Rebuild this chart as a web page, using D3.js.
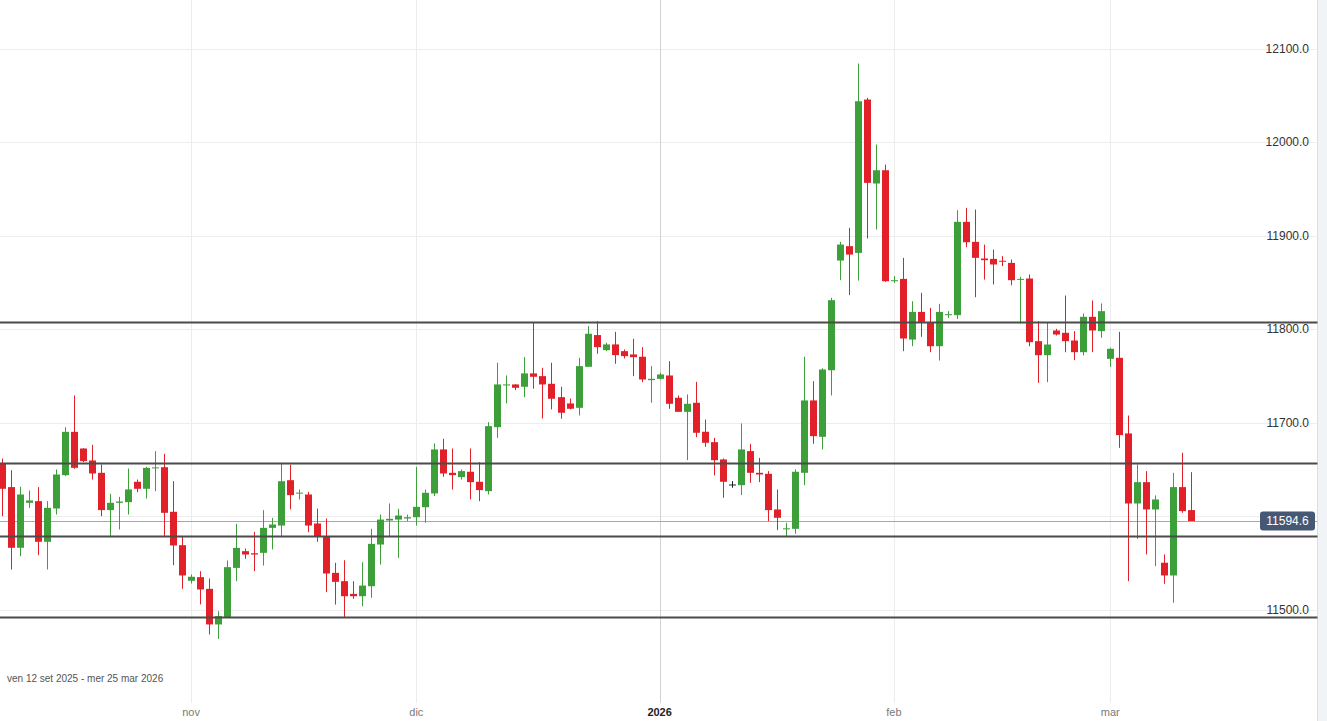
<!DOCTYPE html>
<html>
<head>
<meta charset="utf-8">
<script src="https://cdn.jsdelivr.net/npm/d3@7"></script>
<style>
  html, body { margin: 0; padding: 0; background: #fff; }
  svg { display: block; font-family: "Liberation Sans", Arial, sans-serif; }
</style>
</head>
<body>
<div id="chart"></div>
<script>
// daily candles (index 0 = first visible candle)
const open = [
  11656.2, 11630.9, 11566.0, 11614.1, 11615.9, 11572.4, 11608.0, 11643.7, 11690.0, 11672.2,
  11659.4, 11646.2, 11606.3, 11614.1, 11614.8, 11636.6, 11629.1, 11651.0, 11652.2, 11604.5,
  11568.8, 11530.7, 11534.6, 11522.1, 11484.0, 11491.1, 11544.5, 11562.4, 11560.2, 11560.6,
  11587.3, 11589.8, 11638.3, 11624.0, 11623.0, 11592.0, 11578.4, 11539.2, 11530.3, 11516.7,
  11514.2, 11524.9, 11569.5, 11595.2, 11596.2, 11597.3, 11598.7, 11609.4, 11624.1, 11671.2,
  11646.2, 11641.6, 11647.3, 11636.6, 11626.6, 11695.0, 11739.6, 11740.7, 11738.2, 11752.5,
  11749.6, 11741.4, 11727.1, 11720.4, 11715.7, 11759.6, 11793.5, 11777.4, 11783.5, 11776.3,
  11772.8, 11770.3, 11745.3, 11746.7, 11750.3, 11726.4, 11711.4, 11721.1, 11690.1, 11679.0,
  11660.5, 11633.7, 11633.0, 11669.4, 11646.2, 11645.1, 11607.0, 11586.3, 11586.3, 11646.2,
  11723.6, 11684.7, 11755.9, 11873.2, 11888.6, 11881.4, 12045.4, 11955.6, 11969.8, 11851.1,
  11853.6, 11788.7, 11818.3, 11807.3, 11781.6, 11815.5, 11814.8, 11914.6, 11893.2, 11875.4,
  11875.0, 11873.0, 11870.7, 11852.9, 11854.0, 11787.0, 11772.0, 11798.4, 11795.9, 11787.7,
  11775.2, 11813.0, 11797.7, 11768.1, 11769.2, 11688.3, 11613.4, 11636.2, 11607.0, 11550.0,
  11536.4, 11630.9, 11606.3
];
const high = [
  11661.5, 11649.0, 11631.2, 11627.3, 11630.9, 11615.9, 11649.7, 11695.0, 11728.9, 11672.5,
  11676.1, 11655.1, 11623.7, 11620.5, 11650.8, 11639.0, 11652.6, 11669.4, 11666.5, 11637.3,
  11577.7, 11537.4, 11541.0, 11533.2, 11498.2, 11552.4, 11591.6, 11565.2, 11583.0, 11606.2,
  11598.0, 11655.8, 11655.0, 11628.3, 11625.8, 11608.0, 11597.3, 11549.9, 11552.7, 11530.3,
  11550.6, 11586.3, 11601.6, 11613.4, 11607.7, 11601.6, 11652.6, 11628.3, 11677.6, 11682.6,
  11672.2, 11649.8, 11672.2, 11657.6, 11700.4, 11763.9, 11750.3, 11741.0, 11769.9, 11806.6,
  11758.5, 11763.9, 11738.2, 11725.7, 11769.2, 11803.1, 11808.4, 11785.3, 11797.0, 11778.1,
  11789.5, 11780.6, 11760.3, 11753.2, 11765.6, 11728.9, 11730.0, 11743.5, 11703.2, 11683.6,
  11661.5, 11637.3, 11699.0, 11677.2, 11662.2, 11648.0, 11628.4, 11592.7, 11649.8, 11770.3,
  11744.2, 11758.0, 11833.3, 11893.2, 11908.2, 12083.9, 12047.2, 11997.3, 11975.9, 11856.5,
  11876.1, 11829.7, 11838.7, 11822.6, 11826.9, 11819.1, 11927.1, 11929.6, 11927.8, 11890.3,
  11885.0, 11877.9, 11874.3, 11855.8, 11858.3, 11808.4, 11807.3, 11800.2, 11835.8, 11797.7,
  11816.6, 11830.5, 11827.3, 11779.9, 11797.0, 11707.5, 11655.1, 11648.0, 11622.0, 11558.9,
  11646.2, 11667.6, 11646.9
];
const low = [
  11599.8, 11542.8, 11557.0, 11608.7, 11558.1, 11542.8, 11601.6, 11642.6, 11650.5, 11657.6,
  11639.0, 11599.8, 11578.4, 11585.6, 11601.6, 11625.5, 11618.7, 11626.6, 11578.4, 11547.4,
  11522.1, 11527.8, 11505.4, 11473.3, 11468.6, 11491.0, 11530.3, 11554.2, 11541.0, 11547.0,
  11564.2, 11578.4, 11607.0, 11617.6, 11582.7, 11572.4, 11518.5, 11505.3, 11491.8, 11511.4,
  11503.5, 11512.5, 11548.1, 11577.7, 11555.2, 11594.5, 11589.8, 11592.7, 11621.3, 11641.9,
  11628.4, 11639.0, 11617.7, 11615.9, 11623.0, 11683.6, 11720.4, 11734.6, 11727.1, 11736.1,
  11704.3, 11714.0, 11704.0, 11714.0, 11707.5, 11759.6, 11773.5, 11776.3, 11762.8, 11768.5,
  11749.6, 11743.2, 11721.1, 11746.0, 11714.6, 11711.4, 11659.7, 11684.3, 11674.0, 11643.3,
  11619.5, 11630.2, 11622.3, 11635.5, 11636.2, 11594.5, 11584.9, 11578.5, 11581.0, 11633.0,
  11677.2, 11671.2, 11728.9, 11852.2, 11836.2, 11851.8, 11896.8, 11906.4, 11850.4, 11849.3,
  11776.3, 11781.6, 11791.6, 11775.2, 11766.3, 11811.9, 11810.8, 11887.5, 11834.0, 11852.9,
  11847.6, 11867.2, 11846.8, 11805.9, 11781.6, 11742.4, 11743.1, 11793.0, 11775.2, 11766.7,
  11771.7, 11775.2, 11790.6, 11759.5, 11672.9, 11530.3, 11575.6, 11558.9, 11546.4, 11527.5,
  11507.2, 11603.4, 11594.6
];
const close = [
  11629.1, 11566.0, 11623.0, 11616.6, 11572.4, 11608.7, 11644.4, 11690.0, 11651.5, 11658.7,
  11645.5, 11606.3, 11614.1, 11615.5, 11628.4, 11629.1, 11651.5, 11652.0, 11603.4, 11568.5,
  11536.4, 11535.0, 11521.4, 11484.0, 11492.9, 11545.3, 11565.9, 11558.8, 11558.8, 11587.3,
  11590.9, 11637.2, 11622.3, 11625.0, 11589.8, 11578.4, 11538.5, 11529.6, 11514.2, 11514.2,
  11525.6, 11570.2, 11596.2, 11597.0, 11600.5, 11598.7, 11609.8, 11624.8, 11671.2, 11645.5,
  11643.7, 11648.0, 11636.2, 11627.7, 11696.1, 11740.7, 11740.7, 11737.1, 11752.5, 11748.9,
  11740.7, 11725.4, 11710.4, 11714.7, 11760.3, 11794.9, 11780.6, 11783.5, 11772.1, 11771.0,
  11769.9, 11746.0, 11746.7, 11751.4, 11720.0, 11711.4, 11720.0, 11689.0, 11678.3, 11659.7,
  11636.6, 11633.7, 11671.2, 11646.2, 11644.4, 11606.3, 11598.1, 11586.8, 11647.3, 11723.6,
  11685.4, 11756.7, 11830.8, 11890.3, 11879.6, 12043.6, 11956.3, 11969.8, 11851.1, 11852.2,
  11789.8, 11818.3, 11807.6, 11781.6, 11818.3, 11815.8, 11914.6, 11892.8, 11876.1, 11873.6,
  11869.0, 11872.0, 11852.2, 11853.6, 11785.9, 11772.0, 11783.4, 11794.1, 11787.0, 11775.2,
  11813.0, 11798.4, 11819.1, 11778.8, 11686.5, 11613.4, 11636.2, 11607.0, 11617.7, 11536.4,
  11630.9, 11605.2, 11594.6
];

// month boundaries (candle index) and their labels
const monthIdx = [21, 46, 73, 99, 123];
const monthLabels = ["nov", "dic", "2026", "feb", "mar"];

// price axis ticks + drawn support / resistance levels
const priceTicks = [11500, 11600, 11700, 11800, 11900, 12000, 12100];
const levels = [11807.0, 11656.1, 11578.1, 11491.4];
const lastPrice = 11594.6;
const rangeText = "ven 12 set 2025 - mer 25 mar 2026";

const width = 1327, height = 721, plotRight = 1317.5;
const up = "#3d9f3a", down = "#e2202a", flat = "#222";

const data = open.map((o, i) => ({i: i, o: o, h: high[i], l: low[i], c: close[i]}));

let x = d3.scaleLinear().domain([0, open.length - 1]).range([1.8, 1191.3]);
let y = d3.scaleLinear().domain([11500, 12100]).range([609.5, 48.5]);
const fmt = d3.format(".1f");

let svg = d3.select("#chart").append("svg")
  .attr("width", width)
  .attr("height", height);

svg.append("rect").attr("width", width).attr("height", height).attr("fill", "#fff");

// right edge strip
svg.append("rect")
  .attr("x", plotRight).attr("y", 0)
  .attr("width", width - plotRight).attr("height", height)
  .attr("fill", "#f1f4f6");
svg.append("line")
  .attr("x1", plotRight).attr("x2", plotRight)
  .attr("y1", 0).attr("y2", height)
  .attr("stroke", "#d9e0e5");

// grid
svg.append("g").selectAll("line")
  .data(priceTicks)
  .join("line")
  .attr("x1", 0).attr("x2", plotRight)
  .attr("y1", d => Math.round(y(d)) + 0.5)
  .attr("y2", d => Math.round(y(d)) + 0.5)
  .attr("stroke", "#ededed");

svg.append("g").selectAll("line")
  .data(monthIdx)
  .join("line")
  .attr("x1", d => Math.round(x(d)) + 0.5)
  .attr("x2", d => Math.round(x(d)) + 0.5)
  .attr("y1", 0).attr("y2", 703)
  .attr("stroke", (d, k) => monthLabels[k] === "2026" ? "#d2d2d2" : "#ececec");

// last price line
svg.append("line")
  .attr("x1", 0).attr("x2", plotRight)
  .attr("y1", Math.round(y(lastPrice)) + 0.5)
  .attr("y2", Math.round(y(lastPrice)) + 0.5)
  .attr("stroke", "#a8a8a8");

// candles
let candle = svg.append("g").selectAll("g")
  .data(data)
  .join("g")
  .attr("fill", d => d.c > d.o ? up : d.c < d.o ? down : flat)
  .attr("stroke", d => d.c > d.o ? up : d.c < d.o ? down : flat);

candle.append("line")
  .attr("x1", d => Math.round(x(d.i)) + 0.5)
  .attr("x2", d => Math.round(x(d.i)) + 0.5)
  .attr("y1", d => y(d.h))
  .attr("y2", d => y(d.l))
  .attr("stroke-width", 1);

candle.append("rect")
  .attr("x", d => Math.round(x(d.i)) - 3)
  .attr("width", 7)
  .attr("y", d => y(Math.max(d.o, d.c)))
  .attr("height", d => Math.max(1, Math.abs(y(d.o) - y(d.c))))
  .attr("stroke", "none");

// support / resistance levels
svg.append("g").selectAll("line")
  .data(levels)
  .join("line")
  .attr("x1", 0).attr("x2", plotRight)
  .attr("y1", d => y(d))
  .attr("y2", d => y(d))
  .attr("stroke", "#4b4b4b")
  .attr("stroke-width", 2);

// price axis labels (11600 is covered by the last price tag)
svg.append("g").selectAll("text")
  .data(priceTicks.filter(d => Math.abs(y(d) - y(lastPrice)) > 14))
  .join("text")
  .attr("x", 1309)
  .attr("y", d => y(d) + 1)
  .attr("text-anchor", "end")
  .attr("dominant-baseline", "middle")
  .attr("font-size", 12)
  .attr("fill", "#333")
  .text(fmt);

// last price tag
let tag = svg.append("g").attr("transform", "translate(0," + y(lastPrice) + ")");
tag.append("rect")
  .attr("x", 1260).attr("y", -9.5)
  .attr("width", 55).attr("height", 19)
  .attr("rx", 3)
  .attr("fill", "#475874");
tag.append("text")
  .attr("x", 1287.5).attr("y", 1)
  .attr("text-anchor", "middle")
  .attr("dominant-baseline", "middle")
  .attr("font-size", 12)
  .attr("fill", "#fff")
  .text(fmt(lastPrice));

// month labels
svg.append("g").selectAll("text")
  .data(monthIdx)
  .join("text")
  .attr("x", d => x(d))
  .attr("y", 716)
  .attr("text-anchor", "middle")
  .attr("font-size", 11)
  .attr("font-weight", (d, k) => monthLabels[k] === "2026" ? "bold" : "normal")
  .attr("fill", (d, k) => monthLabels[k] === "2026" ? "#222" : "#7a7a7a")
  .text((d, k) => monthLabels[k]);

svg.append("text")
  .attr("x", 7).attr("y", 682)
  .attr("font-size", 10)
  .attr("fill", "#555")
  .text(rangeText);
</script>
</body>
</html>
